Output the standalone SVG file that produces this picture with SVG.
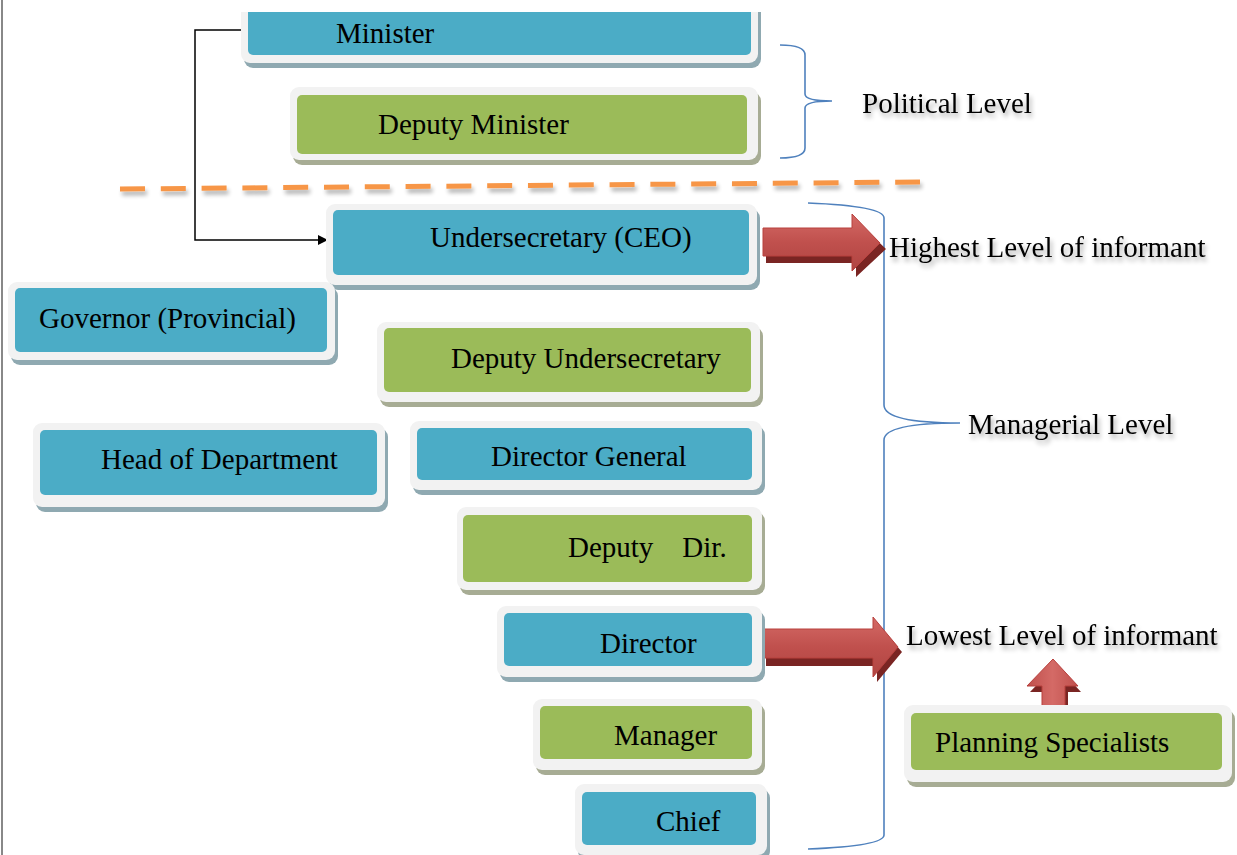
<svg xmlns="http://www.w3.org/2000/svg" width="1237" height="855" viewBox="0 0 1237 855">
<defs>
<style>
.frame{fill:#f2f2f2}
.shb{fill:#8fa9b1}
.shg{fill:#a7ac94}
.fb{fill:#4bacc6}
.fg{fill:#9bbb59}
.t{font-family:"Liberation Serif","Times New Roman",serif;font-size:29px;fill:#000;white-space:pre}
.lbl{font-family:"Liberation Serif","Times New Roman",serif;font-size:29px;fill:#000;filter:url(#tsh)}
.brace{fill:none;stroke:#4f81bd;stroke-width:1.6}
.arr{fill:url(#rg);stroke:#b8403d;stroke-width:1}
.arrsh{fill:#7a2523}
</style>
<linearGradient id="rg" x1="0" y1="0" x2="0" y2="1">
<stop offset="0" stop-color="#d46a66"/>
<stop offset="0.5" stop-color="#c0504d"/>
<stop offset="1" stop-color="#b04542"/>
</linearGradient>
<linearGradient id="rgv" x1="0" y1="0" x2="1" y2="0">
<stop offset="0" stop-color="#c0504d"/>
<stop offset="0.5" stop-color="#d46a66"/>
<stop offset="1" stop-color="#c0504d"/>
</linearGradient>
<filter id="tsh" x="-10%" y="-30%" width="120%" height="180%">
<feGaussianBlur in="SourceAlpha" stdDeviation="2.5"/>
<feOffset dx="2" dy="4" result="b"/>
<feComponentTransfer><feFuncA type="linear" slope="0.35"/></feComponentTransfer>
<feMerge><feMergeNode/><feMergeNode in="SourceGraphic"/></feMerge>
</filter>
<filter id="lsh" x="-5%" y="-200%" width="110%" height="500%">
<feGaussianBlur in="SourceAlpha" stdDeviation="2"/>
<feOffset dx="2" dy="4"/>
<feComponentTransfer><feFuncA type="linear" slope="0.3"/></feComponentTransfer>
<feMerge><feMergeNode/><feMergeNode in="SourceGraphic"/></feMerge>
</filter>
<clipPath id="topclip"><rect x="0" y="12" width="1237" height="843"/></clipPath>
<marker id="ah" viewBox="0 0 10 10" refX="9" refY="5" markerWidth="10" markerHeight="10" markerUnits="userSpaceOnUse" orient="auto">
<path d="M0,0 L10,5 L0,10 z" fill="#000"/>
</marker>
</defs>
<rect width="1237" height="855" fill="#fff"/>
<line x1="2" y1="0" x2="2" y2="855" stroke="#888" stroke-width="2"/>

<g id="connectors">
<path d="M241,30 H195 V240 H327" fill="none" stroke="#000" stroke-width="1.5" marker-end="url(#ah)"/>
<line x1="120" y1="189" x2="920" y2="182" stroke="#f79646" stroke-width="5" stroke-dasharray="25 15.8" filter="url(#lsh)"/>
<line x1="347" y1="309" x2="486" y2="309" stroke="#8064a2" stroke-width="6" stroke-dasharray="23 9" filter="url(#lsh)"/>
<path class="brace" d="M780,45 Q805,45 805,55 L805,94 Q805,101 832,101 Q805,101 805,108 L805,148 Q805,158 780,158"/>
<path class="brace" d="M808,203 Q884,206 884,218 L884,405 Q884,423 960,423 Q884,423 884,440 L884,835 Q884,846 808,849"/>
<g id="arrow-high">
<path class="arrsh" d="M766,233 H856 V220 L886,249 L856,277 V263 H766 z"/>
<path class="arr" d="M763,228 H852 V214 L880,243 L852,271 V256 H763 z"/>
</g>
<g id="arrow-low">
<path class="arrsh" d="M766,634 H877 V623 L902,652 L877,682 V666 H766 z"/>
<path class="arr" d="M763,629 H873 V617 L898,647 L873,677 V658 H763 z"/>
</g>
<g id="arrow-up">
<path class="arrsh" d="M1045,710 V692 H1030 L1056,665 L1081,692 H1068 V710 z"/>
<path class="arr" style="fill:url(#rgv)" d="M1042,708 V686 H1027 L1053,659 L1078,686 H1065 V708 z"/>
</g>
</g>

<g id="minister" clip-path="url(#topclip)">
<rect class="shb" x="244" y="-5" width="517" height="73" rx="9"/>
<rect class="frame" x="241" y="-5" width="517" height="68" rx="9"/>
<rect class="fb" x="248" y="-5" width="503" height="60" rx="5"/>
<text class="t" x="336" y="43">Minister</text>
</g>
<g id="deputy-minister">
<rect class="shg" x="293" y="92" width="468" height="73" rx="9"/>
<rect class="frame" x="290" y="87" width="468" height="73" rx="9"/>
<rect class="fg" x="297" y="95" width="450" height="59" rx="5"/>
<text class="t" x="378" y="134">Deputy Minister</text>
</g>
<g id="undersecretary">
<rect class="shb" x="329" y="209" width="431" height="81" rx="9"/>
<rect class="frame" x="326" y="204" width="431" height="81" rx="9"/>
<rect class="fb" x="333" y="210" width="416" height="65" rx="5"/>
<text class="t" x="430" y="247">Undersecretary (CEO)</text>
</g>
<g id="governor">
<rect class="shb" x="11" y="287" width="327" height="78" rx="9"/>
<rect class="frame" x="8" y="282" width="327" height="78" rx="9"/>
<rect class="fb" x="15" y="288" width="312" height="64" rx="5"/>
<text class="t" x="39" y="328">Governor (Provincial)</text>
</g>
<g id="deputy-undersecretary">
<rect class="shg" x="380" y="327" width="383" height="80" rx="9"/>
<rect class="frame" x="377" y="322" width="383" height="80" rx="9"/>
<rect class="fg" x="384" y="328" width="367" height="64" rx="5"/>
<text class="t" x="451" y="368">Deputy Undersecretary</text>
</g>
<g id="head-of-department">
<rect class="shb" x="36" y="428" width="352" height="84" rx="9"/>
<rect class="frame" x="33" y="423" width="352" height="84" rx="9"/>
<rect class="fb" x="40" y="430" width="337" height="65" rx="5"/>
<text class="t" x="101" y="469">Head of Department</text>
</g>
<g id="director-general">
<rect class="shb" x="413" y="426" width="352" height="69" rx="9"/>
<rect class="frame" x="410" y="421" width="352" height="69" rx="9"/>
<rect class="fb" x="417" y="428" width="335" height="52" rx="5"/>
<text class="t" x="491" y="466">Director General</text>
</g>
<g id="deputy-dir">
<rect class="shg" x="460" y="512" width="305" height="83" rx="9"/>
<rect class="frame" x="457" y="507" width="305" height="83" rx="9"/>
<rect class="fg" x="463" y="515" width="289" height="67" rx="5"/>
<text class="t" x="568" y="557" xml:space="preserve">Deputy    Dir.</text>
</g>
<g id="director">
<rect class="shb" x="500" y="611" width="265" height="71" rx="9"/>
<rect class="frame" x="497" y="606" width="265" height="71" rx="9"/>
<rect class="fb" x="504" y="613" width="248" height="53" rx="5"/>
<text class="t" x="600" y="653">Director</text>
</g>
<g id="manager">
<rect class="shg" x="536" y="704" width="229" height="71" rx="9"/>
<rect class="frame" x="533" y="699" width="229" height="71" rx="9"/>
<rect class="fg" x="540" y="706" width="212" height="53" rx="5"/>
<text class="t" x="614" y="745">Manager</text>
</g>
<g id="chief">
<rect class="shb" x="578" y="789" width="192" height="71" rx="9"/>
<rect class="frame" x="575" y="784" width="192" height="71" rx="9"/>
<rect class="fb" x="582" y="792" width="174" height="53" rx="5"/>
<text class="t" x="656" y="831">Chief</text>
</g>
<g id="planning-specialists">
<rect class="shg" x="907" y="710" width="328" height="77" rx="9"/>
<rect class="frame" x="904" y="705" width="328" height="77" rx="9"/>
<rect class="fg" x="911" y="713" width="311" height="57" rx="5"/>
<text class="t" x="935" y="752">Planning Specialists</text>
</g>

<g id="labels">
<text class="lbl" x="862" y="113">Political Level</text>
<text class="lbl" x="889" y="257">Highest Level of informant</text>
<text class="lbl" x="968" y="434">Managerial Level</text>
<text class="lbl" x="906" y="645">Lowest Level of informant</text>
</g>
</svg>
